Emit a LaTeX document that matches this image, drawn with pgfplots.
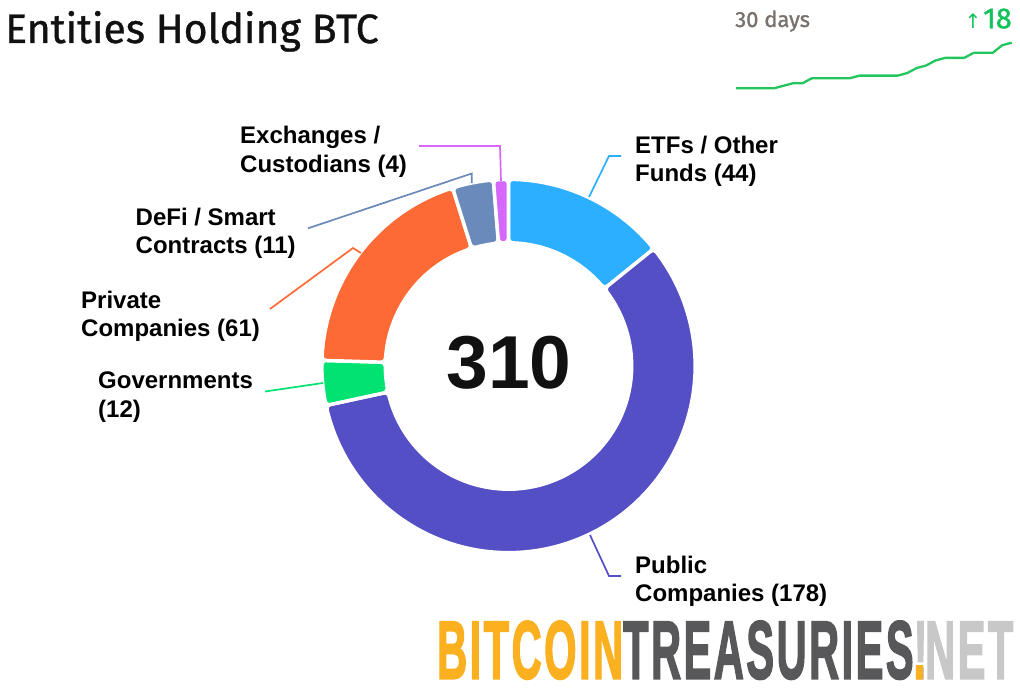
\documentclass[border=0pt]{standalone}
\usepackage{pgfplots}
\pgfplotsset{compat=1.18}
\usepackage{pgfplotstable}
\usepackage{graphicx}
\usepackage{fontspec}
\setmainfont{Liberation Sans}
\newfontfamily\titlefont{Fira Sans}[FakeBold=0.9]
\newfontfamily\headfont{Fira Sans}[FakeBold=1.2]
\newfontfamily\logofont{Liberation Sans}[FakeBold=2.5, LetterSpace=6]
\newfontfamily\symfont{DejaVu Sans}

\definecolor{cetf}{HTML}{2CAFFE}
\definecolor{cpub}{HTML}{544FC5}
\definecolor{cgov}{HTML}{00E272}
\definecolor{cpriv}{HTML}{FE6A35}
\definecolor{cdefi}{HTML}{6B8ABC}
\definecolor{cexch}{HTML}{D568FB}
\definecolor{spark}{HTML}{22C55E}
\definecolor{sparktext}{HTML}{13C25A}
\definecolor{stone}{HTML}{78716C}
\definecolor{ink}{HTML}{111111}
\definecolor{logoorange}{HTML}{FBB01F}
\definecolor{logodark}{HTML}{58585A}
\definecolor{logolight}{HTML}{C8C8C8}

% entities per category
\pgfplotstableread{
segment value
ETFs 44
Public 178
Governments 12
Private 61
DeFi 11
Exchanges 4
}\pietable

% entity count over the last 30 days
\pgfplotstableread{
day count
0 292
1 292
2 292
3 292
4 292
5 293
6 294
7 294
8 296
9 296
10 296
11 296
12 296
13 297
14 297
15 297
16 297
17 297
18 298
19 300
20 301
21 303
22 304
23 304
24 304
25 306
26 306
27 306
28 309
29 310
}\sparktable

% donut segment: #1 start (cumulative count), #2 end, #3 colour, #4 steps
\newcommand\seg[4]{%
  \pgfmathtruncatemacro\segM{2*#4+1}%
  \addplot[fill=#3, draw=white, line width=3.5bp, rounded corners=4bp,
    variable=\t, samples at={0,1,...,\segM}]
  ({508.5 + ifthenelse(\t<=#4,186.75,123.25)*sin((ifthenelse(\t<=#4, #1+\t/#4*(#2-#1), #2-(\t-#4-1)/#4*(#2-#1)))*360/\total)},
   {366 - ifthenelse(\t<=#4,186.75,123.25)*cos((ifthenelse(\t<=#4, #1+\t/#4*(#2-#1), #2-(\t-#4-1)/#4*(#2-#1)))*360/\total)})
  -- cycle;
}

\begin{document}
\begin{tikzpicture}
\begin{axis}[
  at={(0,0)}, anchor=south west,
  width=1020bp, height=687bp, scale only axis,
  xmin=0, xmax=1020, ymin=0, ymax=687, y dir=reverse,
  hide axis, clip=false,
]
\path (axis cs:0,0) rectangle (axis cs:1020,687);

% cumulative values from the table
\pgfplotstablegetelem{0}{value}\of\pietable \pgfmathsetmacro\cA{\pgfplotsretval}
\pgfplotstablegetelem{1}{value}\of\pietable \pgfmathsetmacro\cB{\cA+\pgfplotsretval}
\pgfplotstablegetelem{2}{value}\of\pietable \pgfmathsetmacro\cC{\cB+\pgfplotsretval}
\pgfplotstablegetelem{3}{value}\of\pietable \pgfmathsetmacro\cD{\cC+\pgfplotsretval}
\pgfplotstablegetelem{4}{value}\of\pietable \pgfmathsetmacro\cE{\cD+\pgfplotsretval}
\pgfplotstablegetelem{5}{value}\of\pietable \pgfmathsetmacro\cF{\cE+\pgfplotsretval}
\pgfmathsetmacro\total{\cF}

\seg{0}{\cA}{cetf}{15}
\seg{\cA}{\cB}{cpub}{60}
\seg{\cB}{\cC}{cgov}{4}
\seg{\cC}{\cD}{cpriv}{20}
\seg{\cD}{\cE}{cdefi}{4}
\seg{\cE}{\cF}{cexch}{1}

% connectors
\addplot[cetf, line width=1.7bp] coordinates {(589,197) (609,156) (621,156)};
\addplot[cpub, line width=1.7bp] coordinates {(590,535) (609,576) (621,576)};
\addplot[cgov, line width=1.7bp] coordinates {(323,383) (265,391.5)};
\addplot[cpriv, line width=1.7bp] coordinates {(361,253) (353,248) (270,309)};
\addplot[cdefi, line width=1.7bp] coordinates {(471.7,183) (471.7,173.5) (308,228.3)};
\addplot[cexch, line width=1.7bp] coordinates {(501,181) (500,146) (419,146)};

% labels
\tikzset{lab/.style={anchor=base west, inner sep=0pt, font=\fontsize{24bp}{28bp}\selectfont\bfseries, text=black}}
\node[lab] at (axis cs:635,153.5) {ETFs / Other};
\node[lab] at (axis cs:635,181.9) {Funds (44)};
\node[lab] at (axis cs:635,573.3) {Public};
\node[lab] at (axis cs:635,601.7) {Companies (178)};
\node[lab] at (axis cs:98,388.6) {Governments};
\node[lab] at (axis cs:98,417) {(12)};
\node[lab] at (axis cs:81,308.3) {Private};
\node[lab] at (axis cs:81,336.7) {Companies (61)};
\node[lab] at (axis cs:135.5,225) {DeFi / Smart};
\node[lab] at (axis cs:135.5,253.3) {Contracts (11)};
\node[lab] at (axis cs:240,143.6) {Exchanges /};
\node[lab] at (axis cs:240,172) {Custodians (4)};

% centre total
\node[anchor=base, inner sep=0pt, font=\fontsize{75bp}{80bp}\selectfont\bfseries, text=ink] at (axis cs:509,388) {310};

% title
\node[anchor=base west, inner sep=0pt, font=\fontsize{41bp}{46bp}\selectfont\titlefont, text=ink] at (axis cs:5,43) {Entities Holding BTC};

% sparkline header
\node[anchor=base west, inner sep=0pt, font=\fontsize{22bp}{26bp}\selectfont\headfont, text=stone] at (axis cs:735,27) {30 days};
\node[anchor=base east, inner sep=0pt, font=\fontsize{29bp}{32bp}\selectfont\headfont, text=sparktext] at (axis cs:1012,28.3) {{\symfont\fontsize{20bp}{22bp}\selectfont ↑}\hspace{2bp}18};

% logo
\node[anchor=south west, inner sep=0pt] at (axis cs:437,679.5) {\resizebox{576bp}{57.5bp}{\logofont\bfseries\color{logoorange}BITCOIN\color{logodark}TREASURIES\rlap{\color{logolight}!}\color{logoorange}.\color{logolight}NET}};
\end{axis}

\begin{axis}[
  at={(736bp,598.7bp)}, anchor=south west,
  width=275.7bp, height=45.6bp, scale only axis,
  xmin=0, xmax=29, ymin=292, ymax=310,
  hide axis, clip=false,
]
\addplot[spark, line width=2.3bp, line join=round] table[x=day, y=count] {\sparktable};
\end{axis}
\end{tikzpicture}
\end{document}
